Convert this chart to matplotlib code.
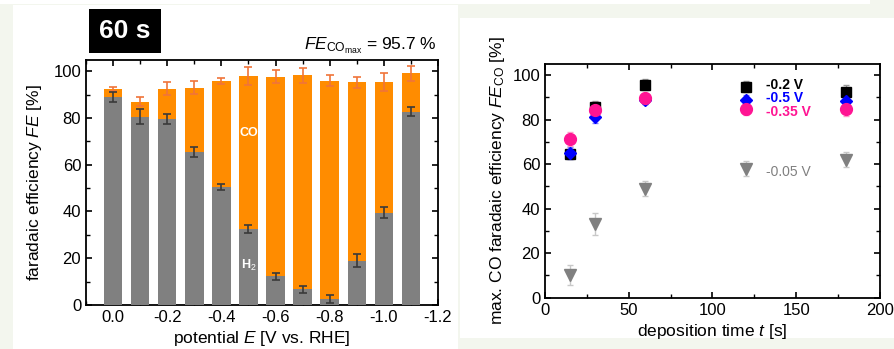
import numpy as np
import matplotlib
matplotlib.use("Agg")
import matplotlib.pyplot as plt
from matplotlib.ticker import MultipleLocator
from matplotlib.patches import Rectangle

plt.rcParams['font.family'] = ['Liberation Sans', 'DejaVu Sans']
plt.rcParams['mathtext.fontset'] = 'custom'
plt.rcParams['mathtext.rm'] = 'Liberation Sans'
plt.rcParams['mathtext.it'] = 'Liberation Sans:italic'

# left panel: FE vs potential (60 s deposition)
potential = [0.0, -0.1, -0.2, -0.3, -0.4, -0.5, -0.6, -0.7, -0.8, -0.9, -1.0, -1.1]
fe_h2 = [89.0, 80.5, 79.5, 65.5, 50.5, 32.5, 12.3, 6.8, 2.5, 19.0, 39.5, 82.7]
fe_h2_err = [2.2, 3.3, 2.3, 2.0, 1.2, 1.8, 1.5, 1.5, 1.8, 2.8, 2.3, 1.8]
fe_total = [92.5, 87.0, 92.5, 93.0, 95.7, 97.8, 97.7, 98.2, 96.0, 95.2, 95.5, 99.2]
fe_total_err = [0.8, 2.0, 2.8, 2.7, 1.2, 3.8, 2.8, 3.2, 2.2, 2.3, 3.8, 3.2]

# right panel: max FE_CO vs deposition time
t = [15, 30, 60, 120, 180]
fe_m02 = [64.5, 85.8, 95.7, 94.8, 92.5]
fe_m02_err = [2.0, 2.5, 2.5, 2.5, 3.0]
fe_m05 = [65.0, 81.0, 89.0, 89.0, 88.5]
fe_m05_err = [2.5, 2.5, 2.0, 2.0, 2.0]
fe_m035 = [71.3, 84.5, 89.5, 85.0, 85.0]
fe_m035_err = [3.0, 3.5, 2.5, 3.0, 3.5]
fe_m005 = [10.0, 33.0, 49.0, 58.0, 62.0]
fe_m005_err = [4.5, 5.0, 3.5, 3.5, 3.5]

W, H = 895, 349
fig = plt.figure(figsize=(W / 100, H / 100), dpi=100, facecolor='#f3f6ee')

def px_rect(x0, y0, x1, y1, color='white'):
    fig.patches.append(Rectangle((x0 / W, 1 - y1 / H), (x1 - x0) / W, (y1 - y0) / H,
                                 transform=fig.transFigure, facecolor=color,
                                 edgecolor='none', zorder=-10))

px_rect(0, 0, 870, 4)
px_rect(13, 5, 458, 349)
px_rect(460, 18, 895, 338)

def ax_rect(x0, y0, x1, y1):
    return [x0 / W, 1 - y1 / H, (x1 - x0) / W, (y1 - y0) / H]

gray = '#808080'
orange = '#ff8c00'

ax1 = fig.add_axes(ax_rect(86, 59.5, 438, 305))
bw = 0.068
ax1.bar(potential, fe_total, width=bw, color=orange, zorder=2)
ax1.errorbar(potential, fe_total, yerr=fe_total_err, fmt='none', ecolor='#f0743a',
             elinewidth=1.2, capsize=3, capthick=1.2, zorder=3)
ax1.bar(potential, fe_h2, width=bw, color=gray, zorder=4)
ax1.errorbar(potential, fe_h2, yerr=fe_h2_err, fmt='none', ecolor='#3a3a3a',
             elinewidth=1.2, capsize=3, capthick=1.2, zorder=5)
ax1.text(-0.5, 73.5, 'CO', color='white', fontsize=9, fontweight='bold',
         ha='center', va='center', zorder=6)
ax1.text(-0.5, 17, r'H$_2$', color='white', fontsize=9, fontweight='bold',
         ha='center', va='center', zorder=6)
ax1.set_xticks([0.0, -0.2, -0.4, -0.6, -0.8, -1.0, -1.2])
ax1.set_xticklabels(['0.0', '-0.2', '-0.4', '-0.6', '-0.8', '-1.0', '-1.2'])
ax1.xaxis.set_minor_locator(MultipleLocator(0.1))
ax1.set_xlim(0.1, -1.2)
ax1.set_ylim(0, 105)
ax1.yaxis.set_major_locator(MultipleLocator(20))
ax1.yaxis.set_minor_locator(MultipleLocator(10))
ax1.set_xlabel(r'potential $E$ [V vs. RHE]', fontsize=12.5, labelpad=3)
ax1.set_ylabel(r'faradaic efficiency $FE$ [%]', fontsize=12.5, labelpad=7)
ax1.tick_params(which='both', direction='in', top=True, right=True, labelsize=12)
ax1.tick_params(which='major', length=4, width=1.2)
ax1.tick_params(which='minor', length=3, width=1.0)
for s in ax1.spines.values():
    s.set_linewidth(1.3)

fig.text(125 / W, 1 - 31 / H, '60 s', fontsize=19, fontweight='bold', color='white',
         ha='center', va='center',
         bbox=dict(boxstyle='square,pad=0.38', facecolor='black', edgecolor='none'))
fig.text(437 / W, 1 - 46 / H, r'$FE_{\mathrm{CO}_{\mathrm{max}}}$ = 95.7 %', fontsize=12.5,
         ha='right', va='center')

ax2 = fig.add_axes(ax_rect(545, 64, 880, 297.7))
series = [
    (fe_m005, fe_m005_err, 'v', '#808080', '#c8c8c8', 8.5),
    (fe_m02, fe_m02_err, 's', 'black', '#9a9a9a', 7),
    (fe_m05, fe_m05_err, 'D', '#0000ff', '#8080ff', 6.5),
    (fe_m035, fe_m035_err, 'o', '#ff1493', '#ff9cc8', 8.5),
]
for vals, err, mk, col, ecol, ms in series:
    ax2.errorbar(t, vals, yerr=err, fmt=mk, color=col, ecolor=ecol, ms=ms,
                 mec=col, elinewidth=1.0, capsize=2, capthick=1.0, zorder=3)

labels = ['-0.05 V', '-0.2 V', '-0.5 V', '-0.35 V']
label_y = [56.5, 95.5, 89.5, 83.5]
label_colors = ['#808080', 'black', '#0000ff', '#ff1493']
for lab, yy, col in zip(labels, label_y, label_colors):
    ax2.text(132, yy, lab, color=col, fontsize=10,
             fontweight='normal' if lab == '-0.05 V' else 'bold', ha='left', va='center')

ax2.set_xlim(0, 200)
ax2.set_ylim(0, 105)
ax2.xaxis.set_major_locator(MultipleLocator(50))
ax2.xaxis.set_minor_locator(MultipleLocator(25))
ax2.yaxis.set_major_locator(MultipleLocator(20))
ax2.yaxis.set_minor_locator(MultipleLocator(10))
ax2.set_xlabel(r'deposition time $t$ [s]', fontsize=12.5, labelpad=3)
ax2.set_ylabel(r'max. CO faradaic efficiency $FE_{\mathrm{CO}}$ [%]', fontsize=12.5, labelpad=4)
ax2.tick_params(which='both', direction='in', top=True, right=True, labelsize=12)
ax2.tick_params(which='major', length=4, width=1.2)
ax2.tick_params(which='minor', length=3, width=1.0)
for s in ax2.spines.values():
    s.set_linewidth(1.3)

fig.savefig('out.png', dpi=100, facecolor=fig.get_facecolor())
